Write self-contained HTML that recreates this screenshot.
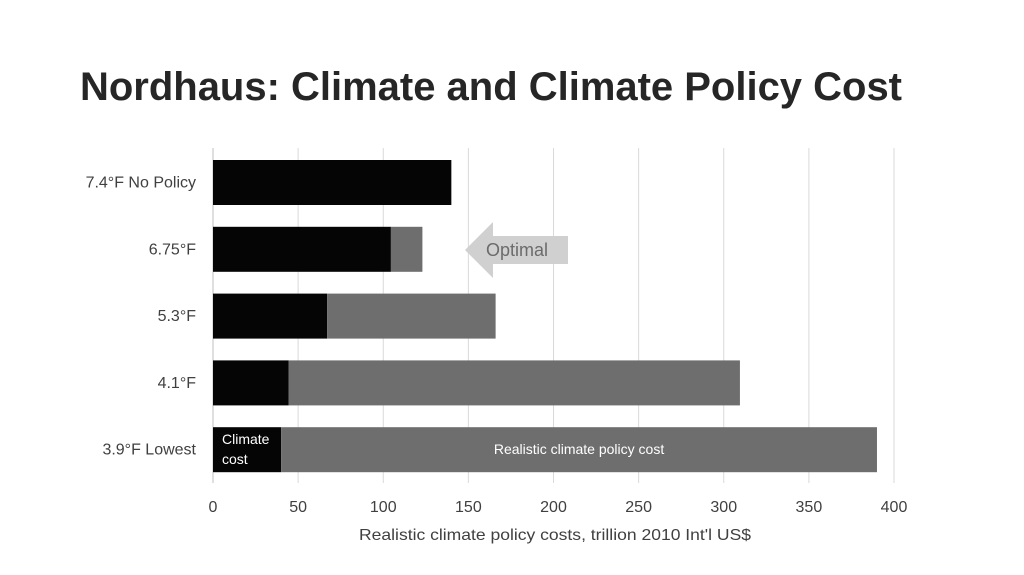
<!DOCTYPE html>
<html><head><meta charset="utf-8"><style>
body{margin:0;background:#fff;}
svg{display:block;font-family:"Liberation Sans",sans-serif;}
</style></head><body>
<svg width="1024" height="575">
<text x="80" y="100" font-size="40" font-weight="bold" fill="#262626" textLength="822" lengthAdjust="spacingAndGlyphs">Nordhaus: Climate and Climate Policy Cost</text>
<g id="grid"></g><g id="bars"></g><g id="labels"></g>
<g>
<polygon points="465,250 493,222 493,236 568,236 568,264 493,264 493,278" fill="#d0d0d0"/>
<text x="486" y="256" font-size="18" fill="#6b6b6b">Optimal</text>
</g>
<text x="555" y="540" font-size="16" fill="#404040" text-anchor="middle" textLength="392" lengthAdjust="spacingAndGlyphs">Realistic climate policy costs, trillion 2010 Int'l US$</text>
</svg>
<script>
const categories=["7.4°F No Policy","6.75°F","5.3°F","4.1°F","3.9°F Lowest"];
const climateCost=[140,104.5,67,44.5,40];
const policyCost=[0,18.5,99,265,350];
const ticks=[0,50,100,150,200,250,300,350,400];
const NS="http://www.w3.org/2000/svg";
const x=v=>213+v*(894-213)/400;
const bandTop=149,band=66.8;
const y=i=>bandTop+i*band;
function mk(t,a,p){const e=document.createElementNS(NS,t);for(const k in a)e.setAttribute(k,a[k]);document.getElementById(p).appendChild(e);return e;}
ticks.forEach(t=>{
 const l=mk('line',{x1:x(t),x2:x(t),y1:148,y2:483,stroke:t===0?'#bfbfbf':'#d9d9d9','stroke-width':1},'grid');
 
 
 const tx=mk('text',{x:x(t),y:512,'font-size':16,fill:'#404040','text-anchor':'middle'},'labels');
 tx.textContent=t;
 
 
});
categories.forEach((c,i)=>{
 const top=y(i)+11,h=45;
 const b1=mk('rect',{x:x(0),y:top,width:x(climateCost[i])-x(0),height:h,fill:'#050505'},'bars');
 
 
 if(policyCost[i]>0){
 const b2=mk('rect',{x:x(climateCost[i]),y:top,width:x(climateCost[i]+policyCost[i])-x(climateCost[i]),height:h,fill:'#6e6e6e'},'bars');
 
 
 }
 const t=mk('text',{x:196,y:top+h/2+5,'font-size':16,fill:'#404040','text-anchor':'end'},'labels');
 t.textContent=c;
 
 
});
const last=categories.length-1,lt=y(last)+11;
const a=mk('text',{x:222,y:lt+17,'font-size':14,fill:'#fff'},'labels');a.textContent='Climate';


const a2=mk('text',{x:222,y:lt+37,'font-size':14,fill:'#fff'},'labels');a2.textContent='cost';


const b=mk('text',{x:(x(climateCost[last])+x(climateCost[last]+policyCost[last]))/2,y:lt+27,'font-size':14,fill:'#fff','text-anchor':'middle'},'labels');
b.textContent='Realistic climate policy cost';


</script>
</body></html>
